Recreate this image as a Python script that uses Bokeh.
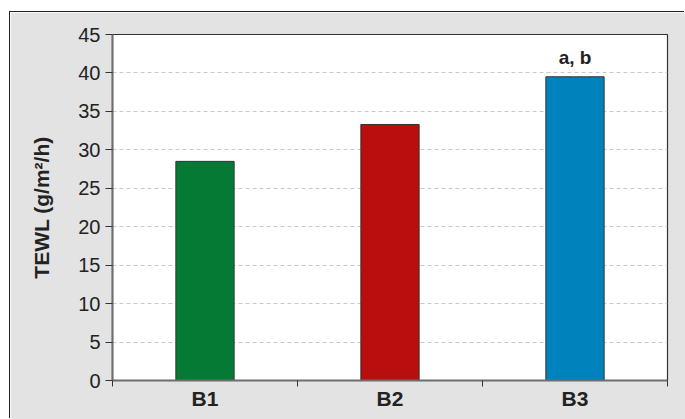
from bokeh.plotting import figure
from bokeh.models import FixedTicker, ColumnDataSource
from bokeh.core.properties import value
from bokeh.embed import file_html
from bokeh.resources import INLINE

categories = ["B1", "B2", "B3"]
tewl = [28.5, 33.3, 39.5]
colors = ["#057a35", "#b90e0e", "#0082bc"]
annotations = ["", "", "a, b"]
y_ticks = [0, 5, 10, 15, 20, 25, 30, 35, 40, 45]
y_label = "TEWL (g/m\u00b2/h)"

xpos = [i + 0.5 for i in range(len(categories))]
src = ColumnDataSource(dict(x=xpos, top=tewl, color=colors, note=annotations))

p = figure(width=675, height=407, output_backend="svg", toolbar_location=None,
           x_range=(0, len(categories)), y_range=(0, 45),
           min_border_left=102, min_border_right=18, min_border_top=22, min_border_bottom=39)
p.margin = (12, 0, 0, 10)
p.styles = {"box-shadow": "-1px -1px 0 0 #222"}
p.border_fill_color = "#e3e3e3"
p.background_fill_color = "white"
p.outline_line_color = "#333333"
p.outline_line_width = 1.2

p.vbar(x="x", top="top", width=0.315, bottom=0, fill_color="color",
       line_color="#333333", line_width=1, source=src)
p.text(x="x", y="top", text="note", source=src, text_align="center", text_baseline="alphabetic",
       y_offset=-19, text_font=value("Liberation Sans"), text_font_style="bold",
       text_font_size="19px", text_color="#222222")

p.xgrid.visible = False
p.ygrid.ticker = FixedTicker(ticks=y_ticks[1:-1])
p.ygrid.grid_line_color = "#c8c8c8"
p.ygrid.grid_line_dash = "4 3"

ya = p.yaxis[0]
ya.ticker = FixedTicker(ticks=y_ticks)
ya.major_tick_out = 7
ya.major_tick_in = 0
ya.minor_tick_out = 0
ya.minor_tick_in = 0
ya.axis_line_color = "#6e6e6e"
ya.axis_line_width = 2
ya.major_tick_line_color = "#333333"
ya.major_label_text_font = "Liberation Sans"
ya.major_label_text_font_size = "20px"
ya.major_label_text_color = "#222222"
ya.major_label_standoff = 5
ya.axis_label = y_label
ya.axis_label_text_font = "Liberation Sans"
ya.axis_label_text_font_style = "bold"
ya.axis_label_text_font_size = "21px"
ya.axis_label_text_color = "#222222"
ya.axis_label_standoff = 22

xa = p.xaxis[0]
xa.ticker = FixedTicker(ticks=xpos, minor_ticks=list(range(len(categories) + 1)))
xa.major_label_overrides = {x: c for x, c in zip(xpos, categories)}
xa.major_tick_out = 0
xa.major_tick_in = 0
xa.minor_tick_out = 6
xa.minor_tick_in = 0
xa.minor_tick_line_color = "#333333"
xa.axis_line_color = "#6e6e6e"
xa.axis_line_width = 2
xa.major_label_text_font = "Liberation Sans"
xa.major_label_text_font_style = "bold"
xa.major_label_text_font_size = "21px"
xa.major_label_text_color = "#222222"
xa.major_label_standoff = 0

open("out.html", "w").write(file_html(p, INLINE))
